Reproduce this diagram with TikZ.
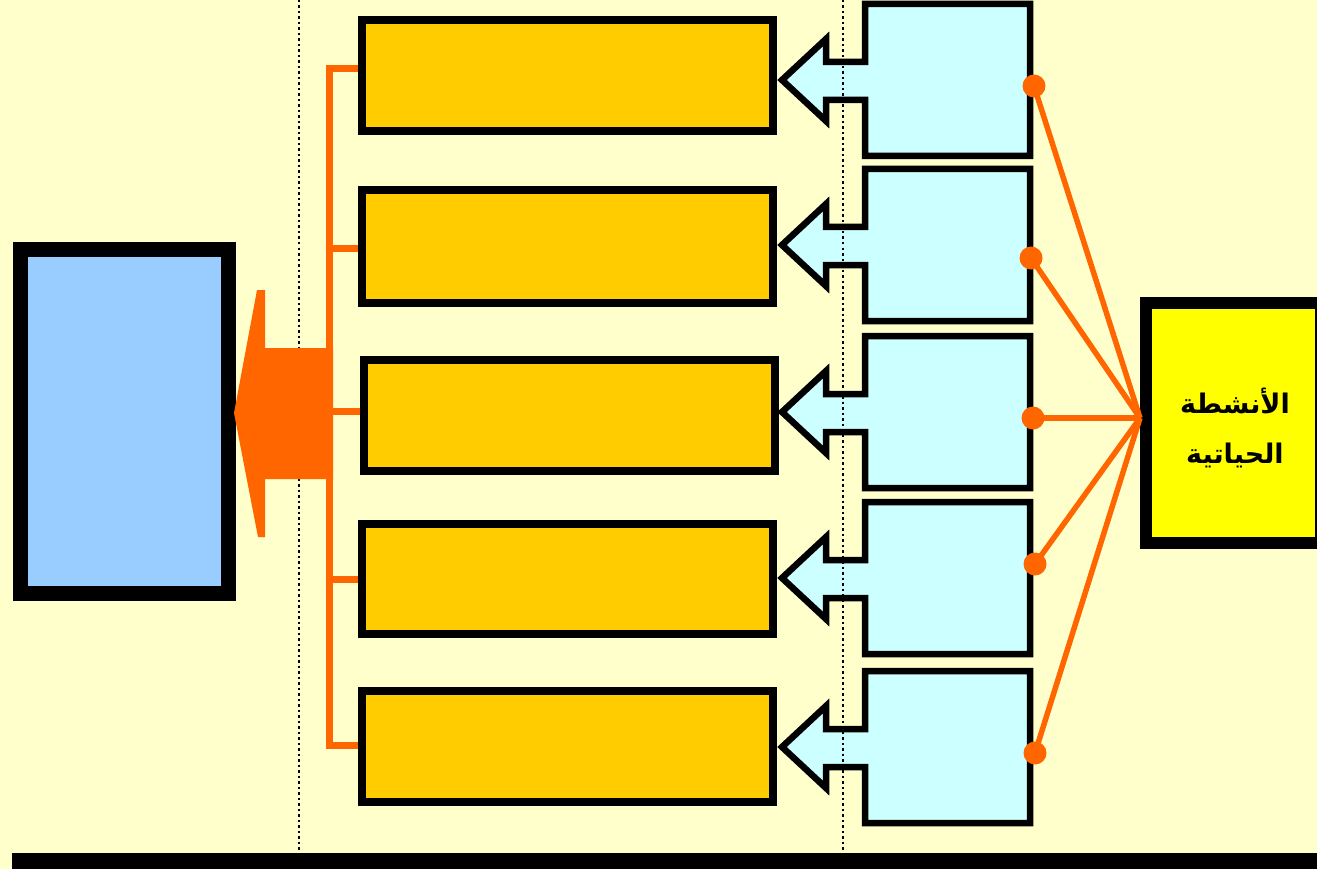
\documentclass[tikz,border=0pt]{standalone}
\usepackage{fontspec}
\newfontfamily\arabicfont[Script=Arabic]{DejaVu Sans}
\TeXXeTstate=1
\definecolor{bgc}{HTML}{FFFFCC}
\definecolor{org}{HTML}{FF6600}
\definecolor{gold}{HTML}{FFCC00}
\definecolor{cyanf}{HTML}{CCFFFF}
\definecolor{bluef}{HTML}{99CCFF}
\definecolor{yel}{HTML}{FFFF00}
\tikzset{
  ybox/.style={draw=black, fill=gold, line width=8.5pt, minimum width=411pt, inner sep=0pt},
  callout/.style={draw=black, fill=cyanf, line width=6.5pt, miter limit=10},
  dotline/.style={line width=2.5pt, dash pattern=on 2.5pt off 3pt},
  oline/.style={draw=org, line width=7pt},
  ray/.style={draw=org, line width=5.5pt},
  odot/.style={circle, fill=org, minimum size=23pt, inner sep=0pt}
}
\begin{document}
\begin{tikzpicture}[x=1pt,y=-1pt]
\useasboundingbox (0,0) rectangle (1317,869);
\fill[bgc] (0,0) rectangle (1317,869);
% left dotted line
\draw[dotline] (299,0) -- (299,852);
% blue box
\node[draw=black, fill=bluef, line width=15pt, minimum width=208pt, minimum height=344pt, inner sep=0pt] (blue) at (124.5,421.5) {};
% gold boxes
\node[ybox, minimum height=111pt] (b1) at (567.5,75.5) {};
\node[ybox, minimum height=113pt] (b2) at (567.5,246.5) {};
\node[ybox, minimum height=111pt] (b3) at (569.5,415.5) {};
\node[ybox, minimum height=110pt] (b4) at (567.5,579) {};
\node[ybox, minimum height=111pt] (b5) at (567.5,746.5) {};
% orange bus
\coordinate (bt) at (329,68);
\coordinate (bb) at (329,746);
\draw[oline] (bt) -- (bb);
\foreach \b/\y in {b1/69, b2/248, b3/411, b4/579, b5/745}
  \draw[oline] (326,\y) -- (\b.west |- 0,\y);
% orange big arrow
\fill[org] (234,413) -- (257,290) -- (265,290) -- (265,348) -- (333,348) -- (333,479) -- (265,479) -- (265,537) -- (258,537) -- cycle;
% callouts
\foreach \c/\n in {80/1, 245/2, 412/3, 578/4, 747/5} {
  \draw[callout] (865,\c-76) -- (1030,\c-76) -- (1030,\c+76) -- (865,\c+76) -- (865,\c+20) -- (826,\c+20) -- (826,\c+41) -- (782,\c) -- (826,\c-41) -- (826,\c-18) -- (865,\c-18) -- cycle;
  \coordinate (c\n) at (947,\c);
}
% right dotted line
\draw[dotline] (843,0) -- (843,852);
% yellow box
\node[draw=black, fill=yel, line width=12pt, minimum width=175pt, minimum height=240pt, inner sep=0pt] (act) at (1233.5,423) {};
\node[font=\arabicfont\bfseries\fontsize{27}{50}\selectfont, align=center] (actt) at (1235,428) {\beginR الأنشطة\endR\\\beginR الحياتية\endR};
% dots and rays
\coordinate (hub) at (1140,418);
\node[odot] (d1) at (1034,86) {};
\node[odot] (d2) at (1031,258) {};
\node[odot] (d3) at (1033,418) {};
\node[odot] (d4) at (1035,564) {};
\node[odot] (d5) at (1035,753) {};
\foreach \d in {d1,d2,d3,d4,d5}
  \draw[ray] (\d.center) -- (hub);
% bottom bar
\fill[black] (12,853) rectangle (1317,869);
\end{tikzpicture}
\end{document}
